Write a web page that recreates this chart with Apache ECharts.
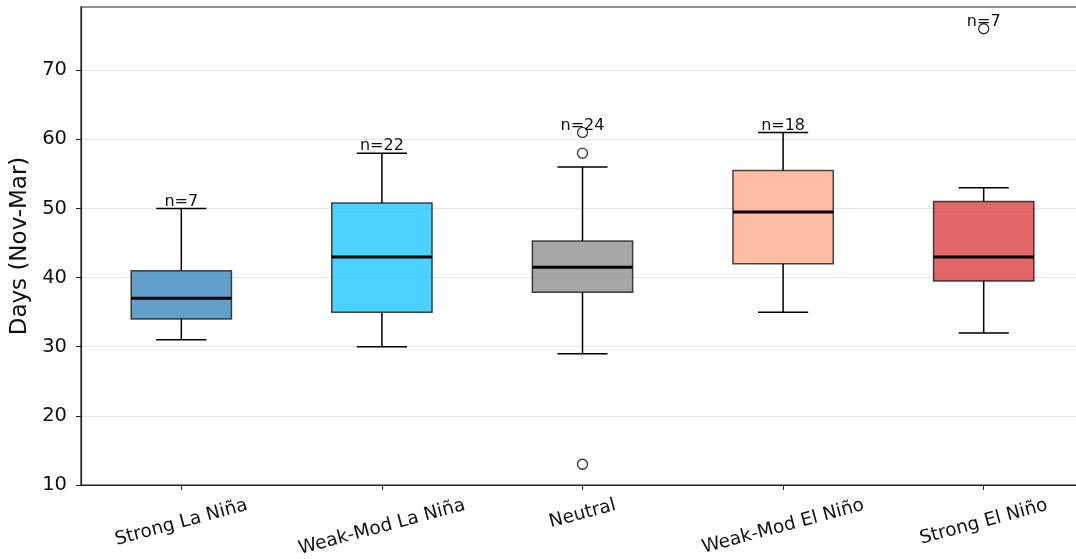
<!DOCTYPE html>
<html>
<head>
<meta charset="utf-8">
<script src="https://cdn.jsdelivr.net/npm/echarts@6/dist/echarts.min.js"></script>
<style>
html,body{margin:0;padding:0;background:#fff;}
#chart{width:1076px;height:559px;}
</style>
</head>
<body>
<div id="chart"></div>
<script>
const categories = ['Strong La Niña', 'Weak-Mod La Niña', 'Neutral', 'Weak-Mod El Niño', 'Strong El Niño'];
const whiskerLow = [31, 30, 29, 35, 32];
const q1 = [34, 35, 37.9, 42, 39.5];
const median = [37, 43, 41.5, 49.5, 43];
const q3 = [41, 50.8, 45.3, 55.5, 51];
const whiskerHigh = [50, 58, 56, 61, 53];
const outliers = [[], [], [58, 61, 13], [], [76]];
const counts = [7, 22, 24, 18, 7];
const yTicks = [10, 20, 30, 40, 50, 60, 70];

const boxColors = ['rgba(31,119,180,0.7)', 'rgba(0,191,255,0.7)', 'rgba(128,128,128,0.7)', 'rgba(255,160,122,0.7)', 'rgba(214,39,40,0.7)'];
const FONT = 'DejaVu Sans';
const XFS = 18.5;
const ROT = 15;

const boxData = categories.map((c, i) => {
  const allMax = Math.max(whiskerHigh[i], ...outliers[i]);
  return [i, whiskerLow[i], q1[i], median[i], q3[i], whiskerHigh[i], allMax, counts[i]];
});
const outlierData = [];
outliers.forEach((arr, i) => arr.forEach(v => outlierData.push([i, v])));

// emulate matplotlib's rotated-label placement (bbox top fixed, centered under tick)
const ctx = document.createElement('canvas').getContext('2d');
ctx.font = XFS + 'px "' + FONT + '"';
const th = ROT * Math.PI / 180;
const rich = {};
categories.forEach((c, i) => {
  const w = ctx.measureText(c).width;
  rich['c' + i] = {
    fontFamily: FONT, fontSize: XFS, color: '#111',
    padding: [w * Math.sin(th) * Math.cos(th), w * Math.sin(th) * Math.sin(th), 0, 0]
  };
});

const chart = echarts.init(document.getElementById('chart'), null, {renderer: 'canvas'});
chart.setOption({
  animation: false,
  backgroundColor: '#fff',
  grid: {left: 81, top: 7, width: 1003, height: 478, show: true, borderColor: '#222', borderWidth: 1.2,
    backgroundColor: 'transparent', containLabel: false, outerBoundsMode: 'none'},
  xAxis: {
    type: 'category',
    data: categories,
    boundaryGap: true,
    axisLine: {show: true, lineStyle: {color: '#222', width: 1.2}},
    axisTick: {show: true, alignWithLabel: true, length: 5, lineStyle: {color: '#222', width: 1}},
    axisLabel: {
      rotate: ROT, align: 'center', verticalAlign: 'middle', margin: 20,
      fontFamily: FONT, fontSize: XFS, color: '#111',
      formatter: (val, idx) => '{c' + idx + '|' + val + '}',
      rich: rich
    },
    splitLine: {show: false}
  },
  yAxis: {
    type: 'value',
    min: 10, max: 79.15, interval: 10,
    name: 'Days (Nov-Mar)', nameLocation: 'middle', nameGap: 47,
    nameTextStyle: {fontFamily: FONT, fontSize: 23, color: '#111'},
    axisLine: {show: true, lineStyle: {color: '#222', width: 1.2}},
    axisTick: {show: true, length: 5, lineStyle: {color: '#222', width: 1}, customValues: yTicks},
    axisLabel: {fontFamily: FONT, fontSize: 19.5, color: '#111', margin: 14, customValues: yTicks},
    splitLine: {show: true, lineStyle: {color: '#e6e6e6', width: 1}}
  },
  series: [
    {
      type: 'custom',
      data: boxData,
      encode: {x: 0, y: [1, 2, 3, 4, 5]},
      renderItem: function (params, api) {
        const i = api.value(0);
        const band = api.size([1, 0])[0];
        const bw = band * 0.5;
        const cw = bw * 0.5;
        const pLow = api.coord([i, api.value(1)]);
        const pQ1 = api.coord([i, api.value(2)]);
        const pMed = api.coord([i, api.value(3)]);
        const pQ3 = api.coord([i, api.value(4)]);
        const pHigh = api.coord([i, api.value(5)]);
        const pMax = api.coord([i, api.value(6)]);
        const x = pMed[0];
        const blk = {stroke: '#000', lineWidth: 1.5};
        return {
          type: 'group',
          children: [
            {type: 'line', shape: {x1: x, y1: pLow[1], x2: x, y2: pQ1[1]}, style: blk},
            {type: 'line', shape: {x1: x, y1: pQ3[1], x2: x, y2: pHigh[1]}, style: blk},
            {type: 'line', shape: {x1: x - cw / 2, y1: pLow[1], x2: x + cw / 2, y2: pLow[1]}, style: blk},
            {type: 'line', shape: {x1: x - cw / 2, y1: pHigh[1], x2: x + cw / 2, y2: pHigh[1]}, style: blk},
            {type: 'rect', shape: {x: x - bw / 2, y: pQ3[1], width: bw, height: pQ1[1] - pQ3[1]},
              style: {fill: boxColors[i], stroke: 'rgba(0,0,0,0.7)', lineWidth: 1.5}},
            {type: 'line', shape: {x1: x - bw / 2, y1: pMed[1], x2: x + bw / 2, y2: pMed[1]}, style: {stroke: '#000', lineWidth: 3}},
            {type: 'text', x: x, y: pMax[1] + 1, style: {text: 'n=' + api.value(7), fontFamily: FONT, fontSize: 16, fill: '#111', align: 'center', verticalAlign: 'bottom'}}
          ]
        };
      },
      z: 2
    },
    {
      type: 'scatter',
      data: outlierData,
      symbol: 'circle',
      symbolSize: 10,
      itemStyle: {color: 'rgba(0,0,0,0)', borderColor: '#000', borderWidth: 1.3},
      z: 3
    }
  ]
});
</script>
</body>
</html>
